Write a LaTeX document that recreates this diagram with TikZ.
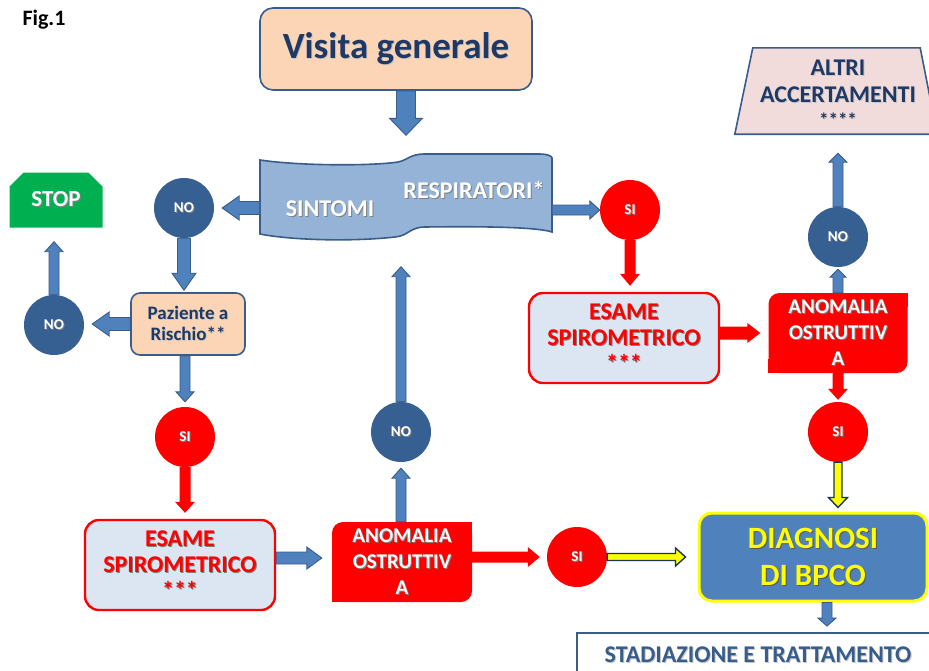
\documentclass[tikz,border=0pt]{standalone}
\usepackage{fontspec}
\setmainfont{Carlito}
\usetikzlibrary{calc,shapes.misc}

\definecolor{navy}{HTML}{1F3864}
\definecolor{frame}{HTML}{385D8A}
\definecolor{arrfill}{HTML}{4F81BD}
\definecolor{peach}{HTML}{FBD5B5}
\definecolor{banner}{HTML}{95B3D7}
\definecolor{dblue}{HTML}{376092}
\definecolor{pale}{HTML}{DCE6F2}
\definecolor{stopgreen}{HTML}{00B050}
\definecolor{rose}{HTML}{F2DCDB}
\definecolor{ylw}{HTML}{FFFF00}
\definecolor{ylwline}{HTML}{17365D}

% text with a small offset shadow
\newcommand\shd[2]{\leavevmode\rlap{\kern1pt\raisebox{-1pt}{\textcolor{#1}{#2}}}#2}
\newcommand\shdark[1]{\shd{black!50}{#1}}
\newcommand\shlight[1]{\shd{black!22}{#1}}

% block arrow: #1 style, #2 shaft width, #3 head width, #4 head length, #5 start, #6 tip
\newcommand\blk[6]{%
  \path[#1] let \p1=#5, \p2=#6,
    \n1={atan2(\y2-\y1,\x2-\x1)}, \n2={veclen(\x2-\x1,\y2-\y1)} in
    ($(\p1)+(\n1+90:#2/2)$)
    -- ($(\p1)+(\n1:\n2-#4)+(\n1+90:#2/2)$)
    -- ($(\p1)+(\n1:\n2-#4)+(\n1+90:#3/2)$)
    -- (\p2)
    -- ($(\p1)+(\n1:\n2-#4)+(\n1-90:#3/2)$)
    -- ($(\p1)+(\n1:\n2-#4)+(\n1-90:#2/2)$)
    -- ($(\p1)+(\n1-90:#2/2)$) -- cycle;}

\tikzset{
  bluearr/.style={fill=arrfill, draw=frame, line width=0.9pt, line join=miter},
  redarr/.style={fill=red},
  yelarr/.style={fill=ylw, draw=ylwline, line width=1.4pt, line join=miter},
  circ/.style={circle, minimum size=60pt, inner sep=0pt, text=white,
    font=\bfseries\fontsize{15}{17}\selectfont},
  nocirc/.style={circ, fill=dblue},
  sicirc/.style={circ, fill=red},
  peachbox/.style={rectangle, fill=peach, draw=frame, line width=1.6pt, text=navy, align=center},
  esambox/.style={rectangle, rounded corners=14pt, fill=pale, draw=red, line width=2.4pt,
    text=red, align=center, minimum width=190pt, minimum height=90pt,
    font=\bfseries\fontsize{24}{26}\selectfont},
  anombox/.style={rectangle, rounded corners=11pt, fill=red, text=white, align=center,
    minimum width=140pt, minimum height=80pt, font=\bfseries\fontsize{21}{26}\selectfont},
}

\begin{document}
\begin{tikzpicture}[x=1pt,y=-1pt]
\clip (0,0) rectangle (929,670);
\fill[white] (0,0) rectangle (929,670);

% title
\node[font=\bfseries\fontsize{22}{24}\selectfont] (fig) at (44,20) {Fig.1};

% top box
\node[peachbox, rounded corners=13pt, minimum width=272pt, minimum height=82pt,
  font=\bfseries\fontsize{37}{40}\selectfont] (visita) at (396,49) {\shlight{Visita generale}};

% wave banner
\node[minimum width=292pt, minimum height=85pt, inner sep=0pt] (sint) at (406,197) {};
\filldraw[fill=banner, draw=frame, line width=1.6pt]
  (260,160) .. controls (300,166) and (372,166) .. (398,162)
  .. controls (408,160) and (410,154) .. (425,154) -- (540,154)
  .. controls (547,154) and (552,156) .. (552,158) -- (552,232)
  .. controls (540,228) and (500,226) .. (425,227)
  .. controls (410,227) and (408,236) .. (395,237)
  .. controls (350,242) and (290,240) .. (260,234) -- cycle;
\node[text=white, font=\bfseries\fontsize{24}{26}\selectfont] (sintA) at (330,209) {\shdark{SINTOMI}};
\node[text=white, font=\bfseries\fontsize{24}{26}\selectfont] (sintB) at (474,190) {\shdark{RESPIRATORI*}};

% left branch
\node[nocirc] (no1) at (184,208) {\shdark{NO}};
\node[peachbox, rounded corners=9pt, minimum width=114pt, minimum height=62pt,
  font=\bfseries\fontsize{19}{21}\selectfont] (paz) at (188,324)
  {\shlight{Paziente a}\\\shlight{Rischio**}};
\node[nocirc] (no2) at (54,325) {\shdark{NO}};
\node[chamfered rectangle, chamfered rectangle corners={north west,north east},
  chamfered rectangle xsep=7pt, chamfered rectangle ysep=7pt,
  fill=stopgreen, text=white, minimum width=93pt, minimum height=55pt, inner sep=0pt,
  font=\bfseries\fontsize{23}{25}\selectfont] (stop) at (56,200) {\shdark{STOP}};
\node[sicirc] (si2) at (185,437) {\shdark{SI}};
\node[esambox] (esa1) at (180,565)
  {\shdark{ESAME}\\\shdark{SPIROMETRICO}\\\shdark{***}};
\node[anombox] (ano1) at (402,562) {\shdark{ANOMALIA}\\\shdark{OSTRUTTIV}\\\shdark{A}};
\fill[red] (ano1.north east) rectangle ++(-14,14);
\fill[red] (ano1.south west) rectangle ++(14,-14);
\node[nocirc] (no3) at (401,432) {\shdark{NO}};
\node[sicirc] (si3) at (577,557) {\shdark{SI}};

% right branch
\node[sicirc] (si1) at (630,210) {\shdark{SI}};
\node[esambox] (esa2) at (624,338)
  {\shdark{ESAME}\\\shdark{SPIROMETRICO}\\\shdark{***}};
\node[anombox, minimum width=139pt] (ano2) at (838,333) {\shdark{ANOMALIA}\\\shdark{OSTRUTTIV}\\\shdark{A}};
\fill[red] (ano2.north east) rectangle ++(-14,14);
\fill[red] (ano2.south west) rectangle ++(14,-14);
\node[sicirc] (si4) at (838,432) {\shdark{SI}};
\node[nocirc] (no4) at (838,237) {\shdark{NO}};

% further tests
\node[minimum width=202pt, minimum height=86pt, inner sep=0pt] (altri) at (836,91) {};
\filldraw[fill=rose, draw=frame, line width=1.6pt]
  ($(altri.north west)+(18,0)$) -- ($(altri.north east)+(-17,0)$)
  -- (altri.south east) -- (altri.south west) -- cycle;
\node[text=navy, align=center, font=\bfseries\fontsize{24}{27}\selectfont] (altritxt) at (838,94)
  {\shlight{ALTRI}\\\shlight{ACCERTAMENTI}\\[-3pt]{\fontsize{19}{20}\selectfont\shlight{****}}};

% diagnosis
\node[rectangle, rounded corners=13pt, fill=arrfill, draw=ylw, line width=3pt,
  minimum width=228pt, minimum height=88pt, text=ylw, align=center,
  font=\bfseries\fontsize{31}{37}\selectfont] (diag) at (813,557)
  {\shd{black!65}{DIAGNOSI}\\\shd{black!65}{DI BPCO}};
\node[rectangle, fill=white, draw=frame, line width=1.8pt, minimum width=362pt,
  minimum height=46pt] (stad) at (758,656) {};
\node[text=frame, font=\bfseries\fontsize{24}{26}\selectfont] (stadtxt) at (758,655)
  {\shlight{STADIAZIONE E TRATTAMENTO}};

% connectors
\blk{bluearr}{19pt}{33pt}{17pt}{(visita.south -| sint.north)}{($(sint.north)+(0,-19)$)}
\blk{bluearr}{13pt}{24pt}{17pt}{(sint.west |- no1.east)}{($(no1.east)+(8,0)$)}
\blk{bluearr}{10pt}{18pt}{10pt}{(sint.east |- si1.west)}{(si1.west)}
\blk{bluearr}{13pt}{24pt}{17pt}{(no1.south)}{($(no1.south |- paz.north)+(0,-2)$)}
\blk{bluearr}{13pt}{24pt}{17pt}{(paz.west)}{($(no2.east |- paz.west)+(8,0)$)}
\blk{bluearr}{10pt}{18pt}{10pt}{(no2.north)}{($(no2.north |- stop.south)+(0,14)$)}
\blk{bluearr}{10pt}{18pt}{10pt}{(si2.north |- paz.south)}{($(si2.north)+(0,-5)$)}
\blk{redarr}{11pt}{20pt}{11pt}{(si2.south)}{($(si2.south |- esa1.north)+(0,-6)$)}
\blk{bluearr}{12pt}{22pt}{15pt}{($(esa1.east)+(0,-7)$)}{($(ano1.west |- esa1.east)+(-10,-7)$)}
\blk{bluearr}{10pt}{18pt}{10pt}{(no3.south |- ano1.north)}{($(no3.south)+(0,6)$)}
\blk{bluearr}{10pt}{18pt}{10pt}{(no3.north)}{($(no3.north |- sint.south)+(0,27)$)}
\blk{redarr}{11pt}{20pt}{12pt}{(ano1.east |- si3.west)}{($(si3.west)+(-7,0)$)}
\blk{yelarr}{7pt}{18pt}{10pt}{(si3.east)}{($(diag.west |- si3.east)+(-12,0)$)}
\blk{bluearr}{10pt}{18pt}{8pt}{($(diag.south)+(14,0)$)}{($(diag.south |- stad.north)+(14,-6)$)}
\blk{redarr}{11pt}{20pt}{12pt}{(si1.south)}{($(si1.south |- esa2.north)+(0,-6)$)}
\blk{redarr}{13pt}{20pt}{13pt}{(esa2.east |- ano2.west)}{($(ano2.west)+(-8,0)$)}
\blk{redarr}{11pt}{20pt}{11pt}{(ano2.south)}{($(si4.north)+(0,-2)$)}
\blk{yelarr}{8pt}{19pt}{10pt}{(si4.south)}{($(si4.south |- diag.north)+(0,-4)$)}
\blk{bluearr}{10pt}{16pt}{8pt}{(ano2.north)}{($(no4.south)+(0,2)$)}
\blk{bluearr}{10pt}{18pt}{9pt}{(no4.north)}{($(no4.north |- altri.south)+(0,19)$)}
\end{tikzpicture}
\end{document}
